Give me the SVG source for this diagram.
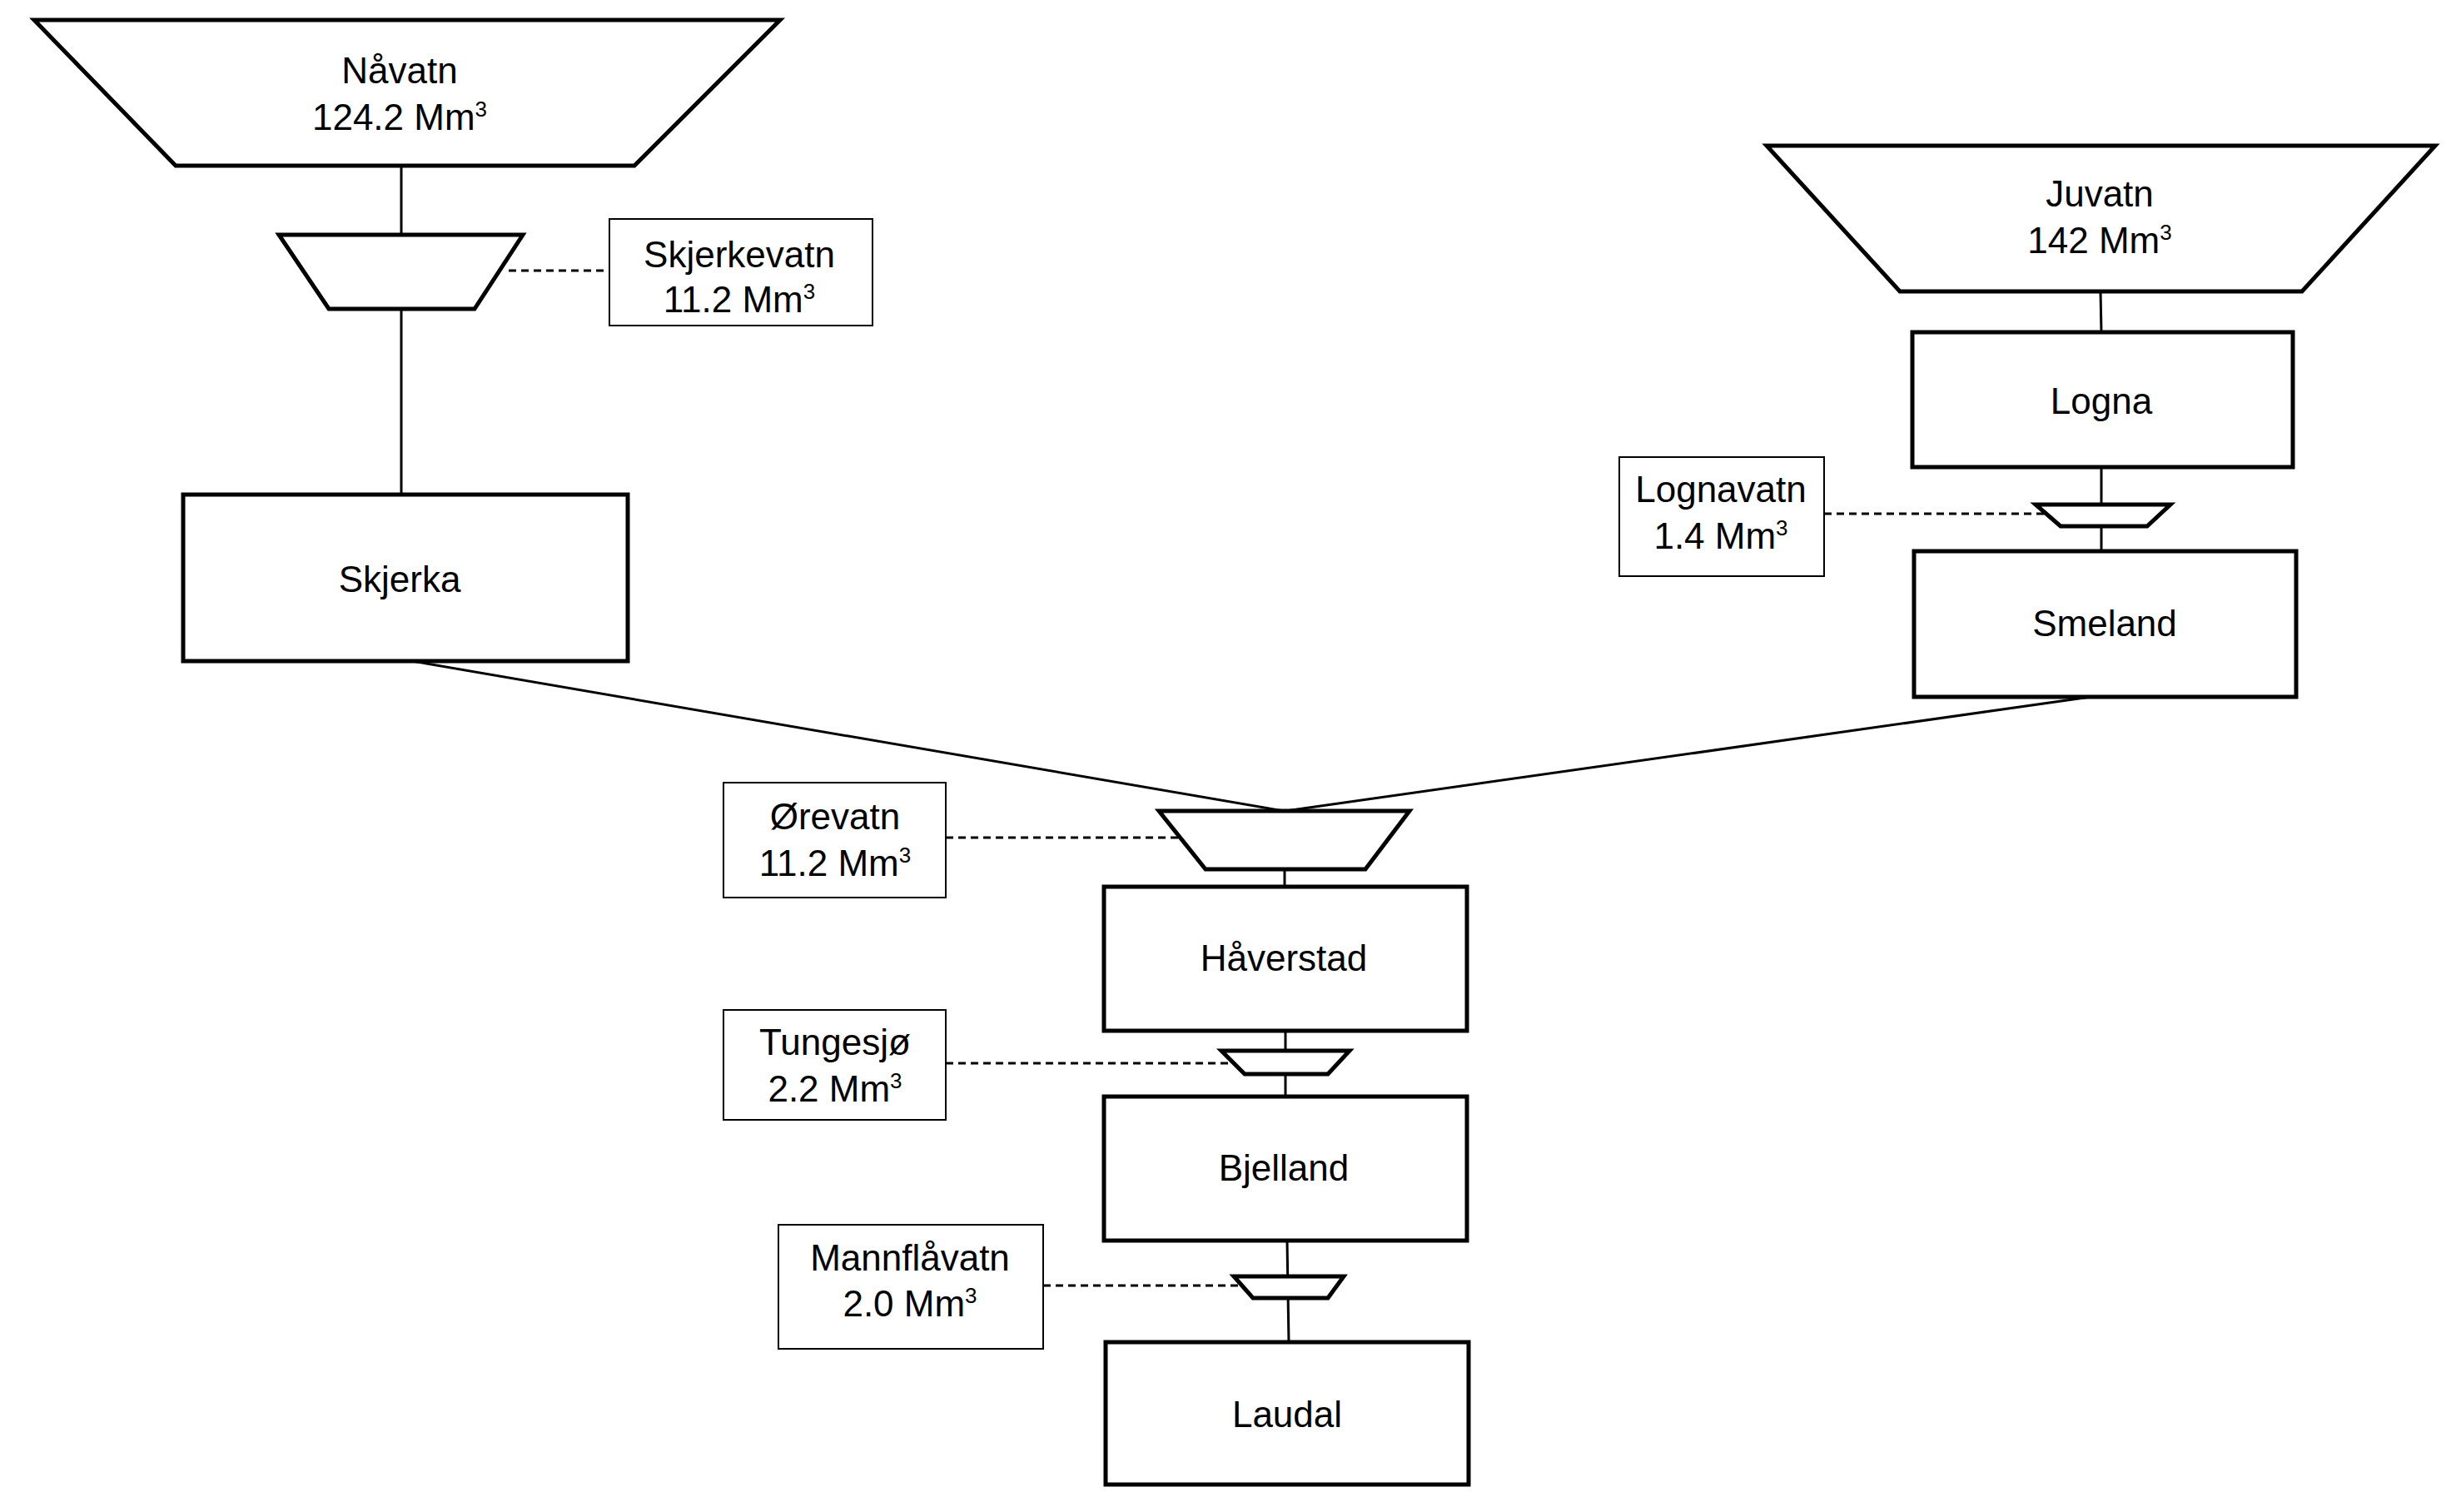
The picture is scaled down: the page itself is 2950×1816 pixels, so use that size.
<svg xmlns="http://www.w3.org/2000/svg" width="2950" height="1816" viewBox="0 0 2950 1816">
<style>
.s{fill:#fff;stroke:#000;stroke-width:5}
.l{fill:#fff;stroke:#000;stroke-width:2}
.c{stroke:#000;stroke-width:3;fill:none}
.d{stroke:#000;stroke-width:3;fill:none;stroke-dasharray:9,6}
text{font-family:"Liberation Sans",Arial,sans-serif;font-size:44px;text-anchor:middle;fill:#000}
.sup{font-size:26px}
</style>
<rect width="2950" height="1816" fill="#fff"/>
<g id="connectors">
<line class="c" x1="482" y1="199" x2="482" y2="282"/>
<line class="c" x1="482" y1="371" x2="482" y2="594"/>
<line class="d" x1="611" y1="325" x2="732" y2="325"/>
<line class="c" x1="495" y1="794" x2="1542" y2="974"/>
<line class="c" x1="2523" y1="350" x2="2524" y2="399"/>
<line class="c" x1="2524" y1="561" x2="2524" y2="662"/>
<line class="d" x1="2191" y1="617" x2="2464" y2="617"/>
<line class="c" x1="2511" y1="837" x2="1544" y2="974"/>
<line class="d" x1="1136" y1="1006" x2="1424" y2="1006"/>
<line class="c" x1="1543" y1="1044" x2="1543" y2="1065"/>
<line class="c" x1="1544" y1="1238" x2="1544" y2="1317"/>
<line class="d" x1="1136" y1="1277" x2="1486" y2="1277"/>
<line class="c" x1="1546" y1="1490" x2="1548" y2="1612"/>
<line class="d" x1="1253" y1="1544" x2="1501" y2="1544"/>
</g>
<g id="navatn"><polygon class="s" points="41,24 937,24 762,199 211,199"/>
<text x="480" y="100">Nåvatn</text><text x="480" y="156">124.2 Mm<tspan class="sup" dy="-16">3</tspan></text></g>
<g id="skjerkevatn"><polygon class="s" points="335,282 628,282 570,371 395,371"/></g>
<g id="skjerkevatn-label"><rect class="l" x="732" y="263" width="316" height="128"/>
<text x="888" y="321">Skjerkevatn</text><text x="888" y="375">11.2 Mm<tspan class="sup" dy="-16">3</tspan></text></g>
<g id="skjerka"><rect class="s" x="220" y="594" width="534" height="200"/><text x="480" y="711">Skjerka</text></g>
<g id="juvatn"><polygon class="s" points="2122,175 2925,175 2765,350 2282,350"/>
<text x="2522" y="248">Juvatn</text><text x="2522" y="304">142 Mm<tspan class="sup" dy="-16">3</tspan></text></g>
<g id="logna"><rect class="s" x="2297" y="399" width="457" height="162"/><text x="2524" y="497">Logna</text></g>
<g id="lognavatn"><polygon class="s" points="2445,606 2607,606 2579,632 2475,632"/></g>
<g id="lognavatn-label"><rect class="l" x="1945" y="549" width="246" height="143"/>
<text x="2067" y="603">Lognavatn</text><text x="2067" y="659">1.4 Mm<tspan class="sup" dy="-16">3</tspan></text></g>
<g id="smeland"><rect class="s" x="2299" y="662" width="459" height="175"/><text x="2528" y="764">Smeland</text></g>
<g id="orevatn"><polygon class="s" points="1392,974 1693,974 1640,1044 1448,1044"/></g>
<g id="orevatn-label"><rect class="l" x="869" y="940" width="267" height="138"/>
<text x="1003" y="996">Ørevatn</text><text x="1003" y="1052">11.2 Mm<tspan class="sup" dy="-16">3</tspan></text></g>
<g id="haverstad"><rect class="s" x="1326" y="1065" width="436" height="173"/><text x="1542" y="1166">Håverstad</text></g>
<g id="tungesjo"><polygon class="s" points="1467,1262 1621,1262 1595,1290 1495,1290"/></g>
<g id="tungesjo-label"><rect class="l" x="869" y="1213" width="267" height="132"/>
<text x="1003" y="1267">Tungesjø</text><text x="1003" y="1323">2.2 Mm<tspan class="sup" dy="-16">3</tspan></text></g>
<g id="bjelland"><rect class="s" x="1326" y="1317" width="436" height="173"/><text x="1542" y="1418">Bjelland</text></g>
<g id="mannflavatn"><polygon class="s" points="1482,1533 1614,1533 1595,1559 1505,1559"/></g>
<g id="mannflavatn-label"><rect class="l" x="935" y="1471" width="318" height="149"/>
<text x="1093" y="1526">Mannflåvatn</text><text x="1093" y="1581">2.0 Mm<tspan class="sup" dy="-16">3</tspan></text></g>
<g id="laudal"><rect class="s" x="1328" y="1612" width="436" height="171"/><text x="1546" y="1714">Laudal</text></g>
</svg>
